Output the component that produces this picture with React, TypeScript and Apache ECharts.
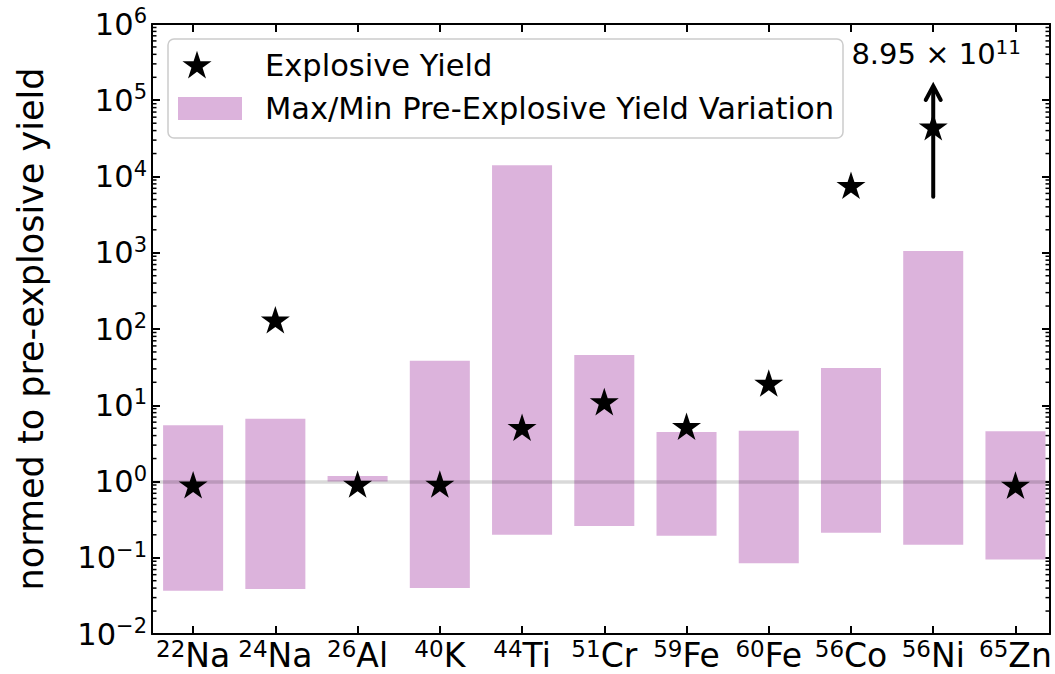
import React, { useEffect, useRef } from "react";
import * as echarts from "echarts";

// Isotopes on the x axis: mass number (superscript) + element symbol
const isotopeMass = ["22", "24", "26", "40", "44", "51", "59", "60", "56", "56", "65"];
const isotopeElement = ["Na", "Na", "Al", "K", "Ti", "Cr", "Fe", "Fe", "Co", "Ni", "Zn"];

// Max/min spread of the pre-explosive yields (normed)
const preExplosiveMin = [0.037, 0.039, 1.0, 0.04, 0.2, 0.26, 0.195, 0.085, 0.213, 0.148, 0.095];
const preExplosiveMax = [5.46, 6.66, 1.18, 38.4, 14030, 45.6, 4.46, 4.64, 30.8, 1054, 4.55];

// Explosive yield normed to the pre-explosive yield
const explosiveYield = [0.87, 127, 0.89, 0.89, 4.94, 10.7, 5.09, 18.8, 7350, 43100, 0.86];

// 56Ni runs off the top of the scale: drawn as an arrow with its true value
const ni56Index = 9;
const ni56Arrow = [5430, 153700];
const ni56Mantissa = "8.95";
const ni56Exponent = "11";

// Axis ticks
const yMajorExponents = [-2, -1, 0, 1, 2, 3, 4, 5, 6];
const yMinorMultipliers = [2, 3, 4, 5, 6, 7, 8, 9];
const xTickIndices = [0, 1, 2, 3, 4, 5, 6, 7, 8, 9, 10];

const FONT = "DejaVu Sans";
const BAR_COLOR = "#dcb3dc";
const BAR_WIDTH = 0.73;
const X_MIN = -0.5;
const X_MAX = 10.42;
const Y_MIN = 0.01;
const Y_MAX = 1e6;

const STAR_PATH =
  "M0,-100 L22.45,-30.9 L95.11,-30.9 L36.33,11.8 L58.78,80.9 L0,38.2 L-58.78,80.9 L-36.33,11.8 L-95.11,-30.9 L-22.45,-30.9 Z";

echarts.graphic.registerShape("legendStar", echarts.graphic.extendPath(STAR_PATH, {}));

const yMajorValues = yMajorExponents.map((e) => Math.pow(10, e));
const yMinorValues: number[] = [];
yMajorExponents.slice(0, -1).forEach((e) => {
  yMinorMultipliers.forEach((m) => yMinorValues.push(m * Math.pow(10, e)));
});

const supMinus = (e: number) => (e < 0 ? "\u2212" + -e : String(e));

function buildOption(): any {
  const logAxisBase = {
    type: "log",
    logBase: 10,
    min: Y_MIN,
    max: Y_MAX,
    splitLine: { show: false },
    gridIndex: 0,
  };
  const frameLine = { show: true, onZero: false, lineStyle: { color: "#000", width: 2 } };
  const majorTick = {
    show: true,
    inside: true,
    length: 8,
    lineStyle: { color: "#000", width: 2 },
  };

  return {
    animation: false,
    backgroundColor: "#fff",
    grid: { left: 152, right: 5, top: 24, bottom: 40, containLabel: false },
    xAxis: [
      {
        type: "value",
        position: "bottom",
        min: X_MIN,
        max: X_MAX,
        splitLine: { show: false },
        axisLine: frameLine,
        axisTick: { ...majorTick, customValues: xTickIndices },
        axisLabel: {
          show: true,
          customValues: xTickIndices,
          margin: 3,
          color: "#000",
          fontFamily: FONT,
          formatter: (v: number) => {
            const i = Math.round(v);
            return `{m|${isotopeMass[i]}}{e|${isotopeElement[i]}}`;
          },
          rich: {
            m: { fontSize: 23, fontFamily: FONT, color: "#000", padding: [0, 0, 14, 0] },
            e: { fontSize: 33, fontFamily: FONT, color: "#000" },
          },
        },
      },
      {
        type: "value",
        position: "top",
        min: X_MIN,
        max: X_MAX,
        splitLine: { show: false },
        axisLine: frameLine,
        axisTick: { ...majorTick, customValues: xTickIndices },
        axisLabel: { show: false },
      },
    ],
    yAxis: [
      {
        ...logAxisBase,
        position: "left",
        axisLine: frameLine,
        axisTick: { ...majorTick, customValues: yMajorValues },
        axisLabel: {
          show: true,
          customValues: yMajorValues,
          margin: 5,
          color: "#000",
          fontFamily: FONT,
          formatter: (v: number) => {
            const e = Math.round(Math.log10(v));
            return `{b|10}{s|${supMinus(e)}}`;
          },
          rich: {
            b: { fontSize: 30.5, fontFamily: FONT, color: "#000" },
            s: { fontSize: 21, fontFamily: FONT, color: "#000", padding: [0, 0, 16, 0] },
          },
        },
        name: "normed to pre-explosive yield",
        nameLocation: "middle",
        nameGap: 104,
        nameTextStyle: { fontSize: 35, fontFamily: FONT, color: "#000" },
      },
      {
        ...logAxisBase,
        position: "right",
        axisLine: frameLine,
        axisTick: { ...majorTick, customValues: yMajorValues },
        axisLabel: { show: false },
      },
    ],
    series: [
      {
        name: "Max/Min Pre-Explosive Yield Variation",
        type: "custom",
        xAxisIndex: 0,
        yAxisIndex: 0,
        z: 2,
        encode: { x: 0, y: [1, 2] },
        data: preExplosiveMin.map((lo, i) => [i, lo, preExplosiveMax[i]]),
        renderItem: (_params: any, api: any) => {
          const x = api.value(0);
          const topLeft = api.coord([x - BAR_WIDTH / 2, api.value(2)]);
          const bottomRight = api.coord([x + BAR_WIDTH / 2, api.value(1)]);
          return {
            type: "rect",
            shape: {
              x: topLeft[0],
              y: topLeft[1],
              width: bottomRight[0] - topLeft[0],
              height: bottomRight[1] - topLeft[1],
            },
            style: { fill: BAR_COLOR },
          };
        },
        markLine: {
          silent: true,
          symbol: ["none", "none"],
          label: { show: false },
          lineStyle: { color: "rgba(0,0,0,0.15)", width: 3.5, type: "solid" },
          data: [{ yAxis: 1 }],
        },
      },
      {
        name: "Explosive Yield",
        type: "scatter",
        xAxisIndex: 0,
        yAxisIndex: 0,
        z: 5,
        symbol: "path://" + STAR_PATH,
        symbolSize: [29, 27.6],
        symbolOffset: [0, -1.4],
        itemStyle: { color: "#000", opacity: 1 },
        data: explosiveYield.map((v, i) => [i, v]),
      },
      {
        name: "56Ni arrow",
        type: "custom",
        xAxisIndex: 0,
        yAxisIndex: 0,
        z: 4,
        encode: { x: 0, y: [1, 2] },
        data: [[ni56Index, ni56Arrow[0], ni56Arrow[1]]],
        renderItem: (_params: any, api: any) => {
          const x = api.value(0);
          const base = api.coord([x, api.value(1)]);
          const tip = api.coord([x, api.value(2)]);
          return {
            type: "group",
            children: [
              {
                type: "line",
                shape: { x1: base[0], y1: base[1], x2: tip[0], y2: tip[1] + 2 },
                style: { stroke: "#000", lineWidth: 4, lineCap: "round" },
              },
              {
                type: "polyline",
                shape: {
                  points: [
                    [tip[0] - 7.5, tip[1] + 14],
                    [tip[0], tip[1]],
                    [tip[0] + 7.5, tip[1] + 14],
                  ],
                },
                style: { stroke: "#000", lineWidth: 4, fill: null, lineCap: "round", lineJoin: "miter" },
              },
              {
                type: "text",
                x: tip[0] + 3,
                y: tip[1] - 32,
                style: {
                  text: `{m|${ni56Mantissa} \u00d7 10}{e|${ni56Exponent}}`,
                  align: "center",
                  verticalAlign: "middle",
                  fill: "#000",
                  rich: {
                    m: { fontSize: 29, fontFamily: FONT, fill: "#000" },
                    e: { fontSize: 20, fontFamily: FONT, fill: "#000", padding: [0, 0, 15, 0] },
                  },
                },
              },
            ],
          };
        },
      },
      {
        // minor log ticks (2..9 per decade) on the left and right frame, pointing inward
        name: "minor ticks",
        type: "custom",
        xAxisIndex: 0,
        yAxisIndex: 0,
        z: 6,
        silent: true,
        clip: false,
        encode: { x: 0, y: 1 },
        data: yMinorValues.map((v) => [X_MIN, v]),
        renderItem: (_params: any, api: any) => {
          const v = api.value(1);
          const left = api.coord([X_MIN, v]);
          const right = api.coord([X_MAX, v]);
          const tickStyle = { stroke: "#000", lineWidth: 1.5 };
          return {
            type: "group",
            children: [
              { type: "line", shape: { x1: left[0], y1: left[1], x2: left[0] + 4.5, y2: left[1] }, style: tickStyle },
              { type: "line", shape: { x1: right[0], y1: right[1], x2: right[0] - 4.5, y2: right[1] }, style: tickStyle },
            ],
          };
        },
      },
    ],
    graphic: [
      {
        type: "rect",
        z: 100,
        shape: { x: 168, y: 39, width: 675, height: 99, r: 6 },
        style: { fill: "rgba(255,255,255,0.8)", stroke: "#cccccc", lineWidth: 1.5 },
      },
      {
        type: "legendStar",
        z: 101,
        x: 197,
        y: 66,
        scaleX: 0.1525,
        scaleY: 0.1525,
        style: { fill: "#000" },
      },
      {
        type: "rect",
        z: 101,
        shape: { x: 178, y: 97, width: 64, height: 23 },
        style: { fill: BAR_COLOR },
      },
      {
        type: "text",
        z: 101,
        x: 265,
        y: 65,
        style: {
          text: "Explosive Yield",
          fontSize: 30.5,
          fontFamily: FONT,
          fill: "#000",
          verticalAlign: "middle",
        },
      },
      {
        type: "text",
        z: 101,
        x: 265,
        y: 108,
        style: {
          text: "Max/Min Pre-Explosive Yield Variation",
          fontSize: 30.5,
          fontFamily: FONT,
          fill: "#000",
          verticalAlign: "middle",
        },
      },
    ],
  };
}

export default function App() {
  const ref = useRef<HTMLDivElement>(null);

  useEffect(() => {
    if (!ref.current) return;
    const chart = echarts.init(ref.current, undefined, { renderer: "svg" });
    chart.setOption(buildOption());
    return () => chart.dispose();
  }, []);

  return (
    <div
      ref={ref}
      style={{ position: "absolute", left: 0, top: 0, width: 1055, height: 674, background: "#fff" }}
    />
  );
}
